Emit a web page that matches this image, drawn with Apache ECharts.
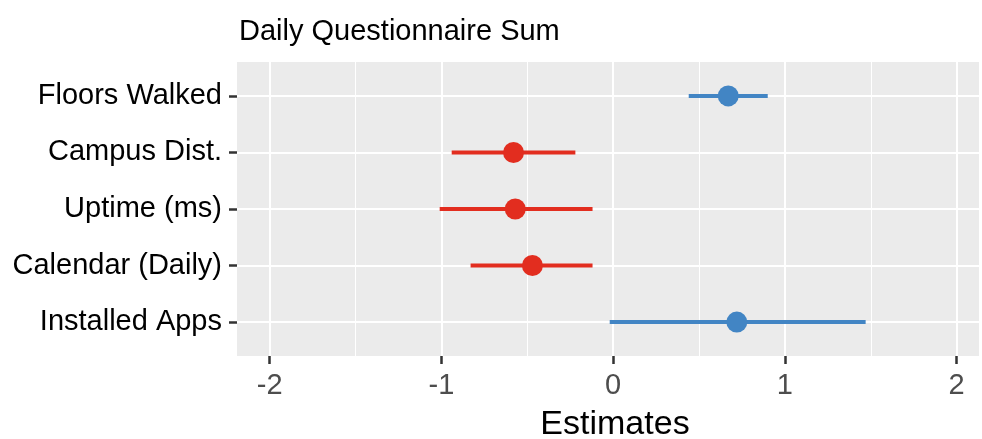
<!DOCTYPE html>
<html>
<head>
<meta charset="utf-8">
<style>html,body{margin:0;padding:0;background:#fff;}#c{width:982px;height:439px;}</style>
<script src="https://cdn.jsdelivr.net/npm/echarts@6/dist/echarts.min.js"></script>
</head>
<body>
<div id="c"></div>
<script>
const categories = ["Floors Walked", "Campus Dist.", "Uptime (ms)", "Calendar (Daily)", "Installed Apps"];
const estimates = [0.67, -0.58, -0.57, -0.47, 0.72];
const lower = [0.44, -0.94, -1.01, -0.83, -0.02];
const upper = [0.90, -0.22, -0.12, -0.12, 1.47];
const xTicks = [-2, -1, 0, 1, 2];
const minorBreaks = [-1.5, -0.5, 0.5, 1.5];

const RED = '#e22d1f', BLUE = '#4285c4';
const FONT = '"Liberation Sans", Arial, Helvetica, sans-serif';

const data = categories.map((c, i) => [estimates[i], i, lower[i], upper[i]]);

const chart = echarts.init(document.getElementById('c'), null, {renderer: 'canvas'});
chart.setOption({
  animation: false,
  backgroundColor: '#ffffff',
  title: {
    text: 'Daily Questionnaire Sum',
    left: 234, top: 12,
    textStyle: {fontFamily: FONT, fontSize: 29, fontWeight: 'normal', color: '#000'}
  },
  grid: {left: 237, right: 3, top: 62, bottom: 83, show: true, backgroundColor: '#ebebeb', borderWidth: 0, outerBoundsMode: 'none', containLabel: false},
  xAxis: {
    type: 'value', min: -2.19, max: 2.13,
    axisLine: {show: false, onZero: false},
    axisTick: {show: true, customValues: xTicks, length: 8, lineStyle: {color: '#333', width: 2.5}},
    axisLabel: {customValues: xTicks, color: '#4d4d4d', fontSize: 29, fontFamily: FONT, margin: 15},
    splitLine: {show: true, lineStyle: {color: '#ffffff', width: 2}},
    name: 'Estimates', nameLocation: 'middle', nameGap: 52,
    nameTextStyle: {fontFamily: FONT, fontSize: 34, color: '#000', padding: [0, 0, 0, 14]}
  },
  yAxis: {
    type: 'value', min: -0.6, max: 4.6, inverse: true,
    axisLine: {show: false, onZero: false},
    axisTick: {show: true, customValues: [0,1,2,3,4], length: 8, lineStyle: {color: '#333', width: 2.5}},
    axisLabel: {customValues: [0,1,2,3,4], formatter: v => categories[Math.round(v)], color: '#000', fontSize: 29, fontFamily: FONT, margin: 15},
    splitLine: {show: true, lineStyle: {color: '#ffffff', width: 2}}
  },
  series: [{
    type: 'custom',
    data: data,
    encode: {x: 0, y: 1},
    renderItem: function (params, api) {
      const est = api.value(0), idx = api.value(1), lo = api.value(2), hi = api.value(3);
      const p0 = api.coord([lo, idx]), p1 = api.coord([hi, idx]), pc = api.coord([est, idx]);
      const col = est < 0 ? RED : BLUE;
      return {
        type: 'group',
        children: [
          {type: 'line', shape: {x1: p0[0], y1: p0[1], x2: p1[0], y2: p1[1]}, style: {stroke: col, lineWidth: 4}},
          {type: 'circle', shape: {cx: pc[0], cy: pc[1], r: 10.5}, style: {fill: col}}
        ]
      };
    },
    markLine: {
      silent: true, symbol: 'none', label: {show: false}, z: 1,
      lineStyle: {color: '#ffffff', width: 1, type: 'solid'},
      data: minorBreaks.map(v => ({xAxis: v}))
    },
    z: 5
  }]
});
</script>
</body>
</html>
